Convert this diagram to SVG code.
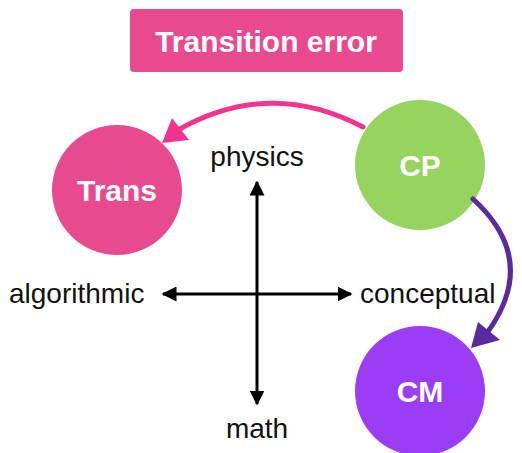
<svg xmlns="http://www.w3.org/2000/svg" width="522" height="453" viewBox="0 0 522 453">
<defs>
<style>
.lbl{font-family:"Liberation Sans",Arial,sans-serif;font-size:28px;fill:#111}
.nt{font-family:"Liberation Sans",Arial,sans-serif;font-weight:bold;fill:#fff;text-anchor:middle}
.ax{stroke:#000;stroke-width:3;fill:none}
</style>
<marker id="ah" viewBox="0 0 10 10" refX="9" refY="5" markerWidth="5" markerHeight="5" orient="auto-start-reverse" markerUnits="strokeWidth">
<path d="M0,0 L10,5 L0,10 z" fill="#000"/>
</marker>
</defs>
<rect width="522" height="453" fill="#fff"/>
<g id="title">
<rect x="130" y="9" width="273" height="63" rx="4" fill="#E94A8E"/>
<text class="nt" x="266" y="52" font-size="30">Transition error</text>
</g>
<g id="trans">
<circle cx="117" cy="190" r="65" fill="#E84A8F"/>
<text class="nt" x="117" y="201" font-size="30">Trans</text>
</g>
<g id="cp">
<circle cx="420" cy="165" r="65" fill="#97D35F"/>
<text class="nt" x="420" y="176" font-size="30">CP</text>
</g>
<g id="cm">
<circle cx="420" cy="391" r="65" fill="#9B3DF5"/>
<text class="nt" x="420" y="402" font-size="30">CM</text>
</g>
<g id="labels">
<text class="lbl" x="257" y="166" text-anchor="middle">physics</text>
<text class="lbl" x="257" y="438" text-anchor="middle">math</text>
<text class="lbl" x="9" y="303">algorithmic</text>
<text class="lbl" x="360" y="303">conceptual</text>
</g>
<g id="connectors">
<line class="ax" x1="257" y1="182" x2="257" y2="404" marker-start="url(#ah)" marker-end="url(#ah)"/>
<line class="ax" x1="163" y1="294" x2="351" y2="294" marker-start="url(#ah)" marker-end="url(#ah)"/>
<path d="M363,127 Q270,78 178,130" fill="none" stroke="#F2338F" stroke-width="5" stroke-linecap="round"/>
<path d="M162,143 L172,118 L189,140 z" fill="#F2338F"/>
<path d="M473,199 Q540,260 487,333" fill="none" stroke="#5A2A9F" stroke-width="5" stroke-linecap="round"/>
<path d="M471,348 L478,322 L500,340 z" fill="#5A2A9F"/>
</g>
</svg>
